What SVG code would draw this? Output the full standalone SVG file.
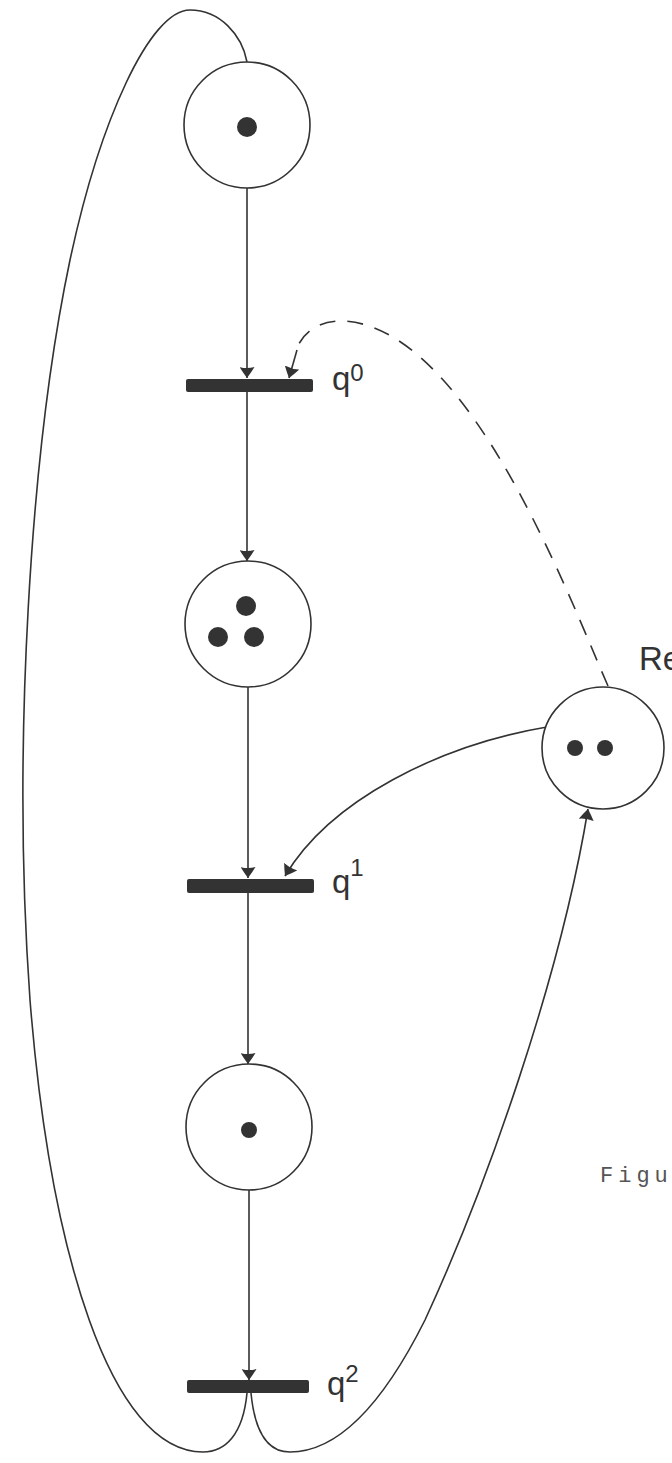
<svg xmlns="http://www.w3.org/2000/svg" width="672" height="1463" viewBox="0 0 672 1463">
<style>
.place{fill:#fff;stroke:#333;stroke-width:1.6}
.tok{fill:#333}
.bar{fill:#333}
.arc{fill:none;stroke:#333;stroke-width:1.6}
.dash{stroke-dasharray:16 12}
.lbl{font-family:"Liberation Sans",Arial,sans-serif;font-size:33px;fill:#333}
.sup{font-size:24px}
.cap{font-family:"Liberation Mono","Courier New",monospace;font-size:22px;fill:#555;letter-spacing:5px}
</style>
<defs>
<marker id="ah" markerUnits="userSpaceOnUse" viewBox="0 0 11 15" refX="11" refY="7.5" markerWidth="11" markerHeight="15" orient="auto">
<path d="M0,0 Q5,3 11,7.5 Q5,12 0,15 Q2,7.5 0,0 Z" fill="#333"/>
</marker>
</defs>
<g id="connectors">
<path class="arc" d="M247,188 L247,378" marker-end="url(#ah)"/>
<path class="arc" d="M247,392 L247,561" marker-end="url(#ah)"/>
<path class="arc" d="M248,687 L248,878" marker-end="url(#ah)"/>
<path class="arc" d="M248,893 L248,1064" marker-end="url(#ah)"/>
<path class="arc" d="M249,1190 L249,1380" marker-end="url(#ah)"/>
<path class="arc dash" d="M608,686 C570,600 470,330 345,321 C318,320 303,333 297,348"/>
<path class="arc" d="M297,350 L289,378" marker-end="url(#ah)"/>
<path class="arc" d="M547,727 C440,745 330,800 285,876" marker-end="url(#ah)"/>
<path class="arc" d="M251,1393 C255,1435 270,1452 290,1452 C340,1452 385,1400 425,1320 C485,1190 560,980 588,809" marker-end="url(#ah)"/>
<path class="arc" d="M247,1393 C243,1435 225,1452 203,1452 C110,1452 50,1250 30,1000 C12,750 30,450 70,260 C100,120 150,10 190,10 C220,10 242,35 247,62"/>
</g>
<g id="p1">
<circle class="place" cx="247" cy="125" r="63"/>
<circle class="tok" cx="247" cy="127" r="10"/>
</g>
<g id="q0">
<rect class="bar" x="186" y="379" width="127" height="13" rx="2"/>
<text class="lbl" x="332" y="390">q<tspan class="sup" dy="-9">0</tspan></text>
</g>
<g id="p2">
<circle class="place" cx="248" cy="624" r="63"/>
<circle class="tok" cx="246" cy="606" r="10"/>
<circle class="tok" cx="218" cy="637" r="10"/>
<circle class="tok" cx="254" cy="637" r="10"/>
</g>
<g id="re">
<circle class="place" cx="603" cy="748" r="61"/>
<circle class="tok" cx="575" cy="748" r="8"/>
<circle class="tok" cx="605" cy="748" r="8"/>
<text class="lbl" x="639" y="670">Re</text>
</g>
<g id="q1">
<rect class="bar" x="187" y="879" width="127" height="14" rx="2"/>
<text class="lbl" x="332" y="893">q<tspan class="sup" dy="-17">1</tspan></text>
</g>
<g id="p3">
<circle class="place" cx="249" cy="1127" r="63"/>
<circle class="tok" cx="249" cy="1130" r="8"/>
</g>
<g id="q2">
<rect class="bar" x="187" y="1380" width="122" height="13" rx="2"/>
<text class="lbl" x="327" y="1395">q<tspan class="sup" dy="-13">2</tspan></text>
</g>
<text class="cap" x="600" y="1182">Figu</text>
</svg>
